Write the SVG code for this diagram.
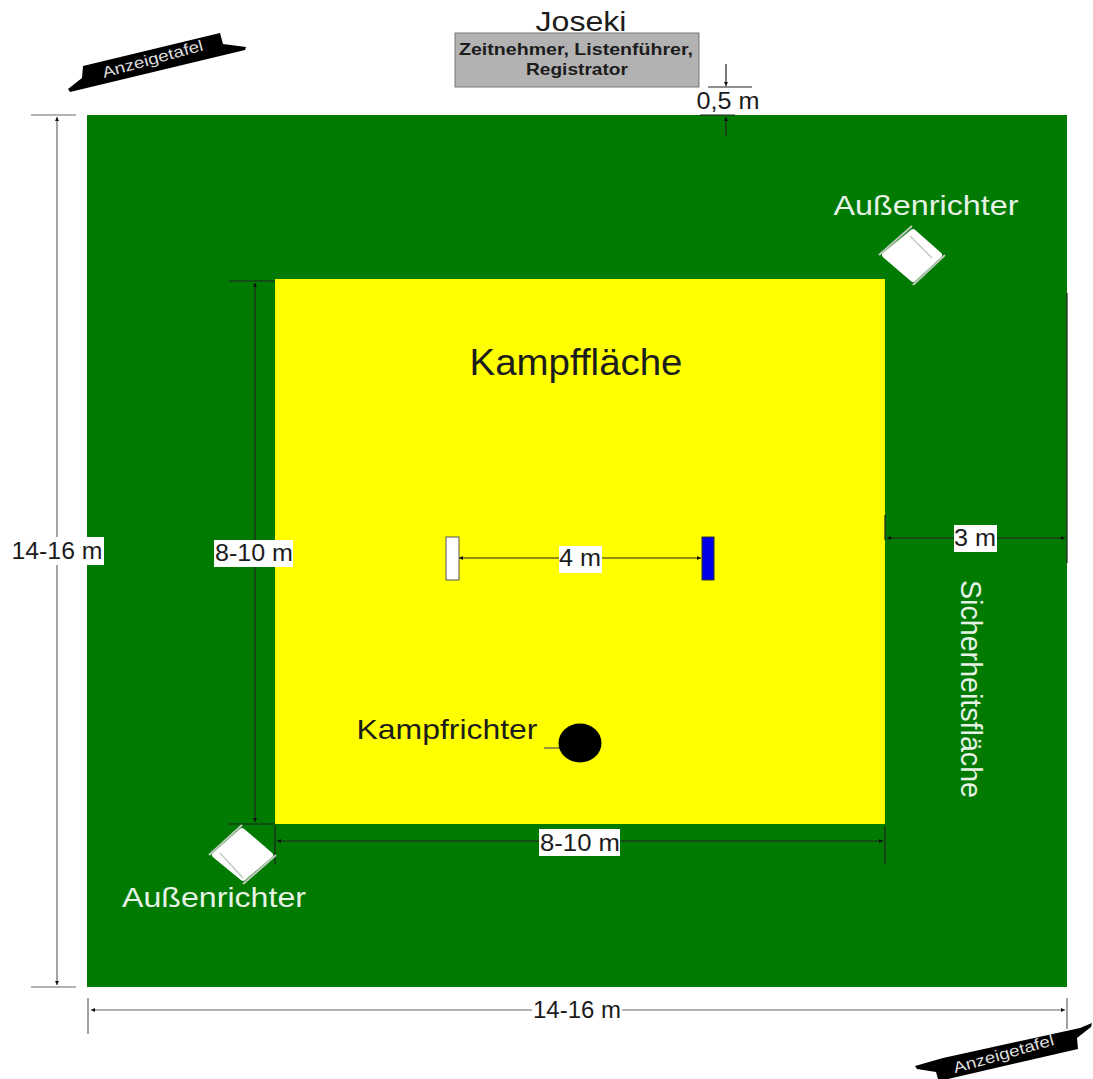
<svg xmlns="http://www.w3.org/2000/svg" width="1093" height="1079" viewBox="0 0 1093 1079">
<defs>
<marker id="dot" markerWidth="5" markerHeight="5" refX="4" refY="2" orient="auto-start-reverse" markerUnits="userSpaceOnUse"><path d="M0 0L4 2L0 4Z" fill="#111"/></marker>
</defs>
<style>
text{font-family:"Liberation Sans",Arial,sans-serif;fill:#1c1c1c;text-anchor:middle}
.w{fill:#e6f2e6}
.dim{stroke:#222;stroke-width:1.2;fill:none}
.dimg{stroke:#666;stroke-width:1.2;fill:none}
.arr{marker-start:url(#dot);marker-end:url(#dot)}
.end{marker-end:url(#dot)}
.lab{fill:#fff}
.l25{font-size:23px}
.seat{fill:#fff;stroke:#fff;stroke-width:6;stroke-linejoin:round}
.edge{stroke:#bfc9bf;stroke-width:2;fill:none}
.band{stroke:#c4ccc4;stroke-width:1.6;fill:none}
.board{fill:#000}
.bt{font-size:15.5px;fill:#ddd}
</style>
<rect width="1093" height="1079" fill="#fff"/>
<g id="safety-area"><rect x="87" y="115" width="980" height="872" fill="#007a00"/><text class="w" font-size="29" textLength="218" lengthAdjust="spacingAndGlyphs" transform="translate(961 689) rotate(90)">Sicherheitsfläche</text></g>
<g id="fight-area"><rect x="275" y="279" width="610" height="545" fill="#ffff00"/><text x="576" y="375" font-size="37" textLength="213" lengthAdjust="spacingAndGlyphs">Kampffläche</text></g>
<g id="connectors">
<path class="dimg arr" d="M57 117V985"/><path class="dimg" d="M31 115H76M31 987H76"/>
<path class="dim arr" d="M255 283V822"/><path class="dim" d="M229 281H275M229 824H275"/>
<path class="dim arr" d="M277 841H883"/><path class="dim" d="M275 826V864M885 826V864"/>
<path class="dimg arr" d="M91 1010H1065"/><path class="dimg" d="M88 998V1034M1067 998V1029"/>
<path class="dim arr" d="M887 538H1065"/><path class="dim" d="M885 515V540M1067 293V563"/>
<path class="dim arr" d="M459 558H701"/>
<path class="dim end" d="M726 64V86"/><path class="dim end" d="M726 136V117"/>
<path class="dim" d="M708 87H752M700 115H735"/>
<path d="M544 748H560" stroke="#555" stroke-width="1.2"/>
</g>
<g id="dim-labels">
<rect class="lab" x="11" y="537" width="93" height="28"/><text x="57" y="559" class="l25" textLength="91" lengthAdjust="spacingAndGlyphs">14-16 m</text>
<rect class="lab" x="214" y="540" width="79" height="27"/><text x="254" y="561" class="l25" textLength="78" lengthAdjust="spacingAndGlyphs">8-10 m</text>
<rect class="lab" x="539" y="829" width="81" height="27"/><text x="580" y="851" class="l25" textLength="80" lengthAdjust="spacingAndGlyphs">8-10 m</text>
<rect class="lab" x="532" y="997" width="90" height="26"/><text x="577" y="1018" class="l25" textLength="88" lengthAdjust="spacingAndGlyphs">14-16 m</text>
<rect class="lab" x="954" y="525" width="43" height="27"/><text x="975" y="546" class="l25" textLength="42" lengthAdjust="spacingAndGlyphs">3 m</text>
<rect class="lab" x="559" y="546" width="43" height="27"/><text x="580" y="566" class="l25" textLength="42" lengthAdjust="spacingAndGlyphs">4 m</text>
<text x="728" y="109" class="l25" textLength="63" lengthAdjust="spacingAndGlyphs">0,5 m</text>
</g>
<g id="joseki">
<text x="581" y="31" font-size="28" textLength="91" lengthAdjust="spacingAndGlyphs">Joseki</text>
<rect x="455" y="33" width="244" height="54" fill="#b2b2b2" stroke="#777" stroke-width="1"/>
<text x="576" y="55" font-size="16.5" font-weight="bold" textLength="234" lengthAdjust="spacingAndGlyphs">Zeitnehmer, Listenführer,</text>
<text x="577" y="75" font-size="16.5" font-weight="bold" textLength="102" lengthAdjust="spacingAndGlyphs">Registrator</text>
</g>
<g id="scoreboard-top"><path class="board" d="M68 89L82 78L83 66L220 33L223 44L246 47L245 50L70 92Z"/><text class="bt" textLength="104" lengthAdjust="spacingAndGlyphs" transform="translate(154 64) rotate(-15.5)">Anzeigetafel</text></g>
<g id="scoreboard-bottom"><path class="board" d="M915 1066L943 1058L1080 1028L1092 1023L1091 1027L1077 1038L1078 1049L948 1079H938L936 1072L917 1069Z"/><text class="bt" textLength="104" lengthAdjust="spacingAndGlyphs" transform="translate(1005 1059) rotate(-16)">Anzeigetafel</text></g>
<g id="judge-top-right">
<path class="seat" d="M913 232L939 255L913 279L885 255Z"/>
<path class="edge" d="M879 255L912 226M913 285L945 255"/>
<path class="band" d="M910 236L932 258"/>
</g>
<g id="judge-bottom-left">
<path class="seat" d="M242 831L270 855L243 878L215 855Z"/>
<path class="edge" d="M209 855L242 825M243 884L276 855"/>
<path class="band" d="M220 853L243 878"/>
</g>
<text id="label-judge-top" x="926" y="215" font-size="28" class="w" textLength="185" lengthAdjust="spacingAndGlyphs">Außenrichter</text>
<text id="label-judge-bottom" x="214" y="907" font-size="28" class="w" textLength="184" lengthAdjust="spacingAndGlyphs">Außenrichter</text>
<g id="white-mark"><rect x="446" y="537" width="13" height="43" fill="#fff" stroke="#555" stroke-width="1"/></g>
<g id="blue-mark"><rect x="702" y="537" width="12" height="43" fill="#0000e6" stroke="#333" stroke-width="1"/></g>
<g id="referee"><ellipse cx="580" cy="743" rx="21.5" ry="19.5" fill="#000"/><text x="447" y="739" font-size="28" textLength="181" lengthAdjust="spacingAndGlyphs">Kampfrichter</text></g>
</svg>
